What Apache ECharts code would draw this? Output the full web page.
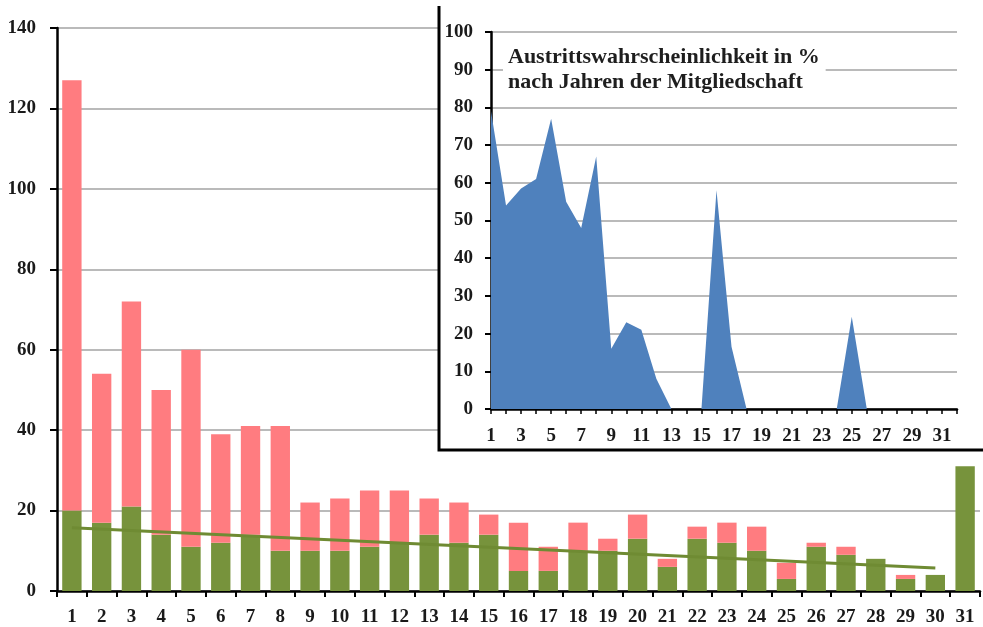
<!DOCTYPE html>
<html>
<head>
<meta charset="utf-8">
<script src="https://cdn.jsdelivr.net/npm/echarts@6/dist/echarts.min.js"></script>
<style>html,body{margin:0;padding:0;background:#fff}#c{width:983px;height:627px}</style>
</head>
<body>
<div id="c"></div>
<script>
// Main chart: membership years
var years = ['1','2','3','4','5','6','7','8','9','10','11','12','13','14','15','16','17','18','19','20','21','22','23','24','25','26','27','28','29','30','31'];
var greenValues = [20,17,21,14,11,12,14,10,10,10,11,12,14,12,14,5,5,10,10,13,6,13,12,10,3,11,9,8,3,4,31];
var pinkValues  = [107,37,51,36,49,27,27,31,12,13,14,13,9,10,5,12,6,7,3,6,2,3,5,6,4,1,2,0,1,0,0];
var trendPoints = [[0,15.7],[29,5.7]];
var mainYTicks = [0,20,40,60,80,100,120,140];

// Inset: exit probability in % by years of membership
var insetYears = ['1','2','3','4','5','6','7','8','9','10','11','12','13','14','15','16','17','18','19','20','21','22','23','24','25','26','27','28','29','30','31','32'];
var exitProbability = [79,54,58.5,61,77,55,48,67,16,23,21,8,0,0,0,58,16.5,0,0,0,0,0,0,0,24.5,0,0,0,0,0,0,0];
var insetTitle = 'Austrittswahrscheinlichkeit in %\nnach Jahren der Mitgliedschaft';

var FONT = 'Liberation Serif';
var lbl = {fontFamily: FONT, fontWeight: 'bold', fontSize: 19, color: '#1a1a1a'};

var chart = echarts.init(document.getElementById('c'), null, {renderer: 'canvas'});
chart.setOption({
  animation: false,
  backgroundColor: '#fff',
  title: {
    text: insetTitle,
    left: 503, top: 42,
    padding: [3, 6, 3, 5],
    backgroundColor: '#fff',
    z: 8,
    textStyle: {fontFamily: FONT, fontWeight: 'bold', fontSize: 22, lineHeight: 25, color: '#1e1e1e'}
  },
  graphic: [
    {type: 'rect', z: 1, shape: {x: 439, y: 6, width: 560, height: 444}, style: {fill: '#fff'}},
    {type: 'polyline', z: 7, shape: {points: [[439, 6], [439, 450], [990, 450]]}, style: {stroke: '#000', lineWidth: 3, fill: null}}
  ],
  grid: [
    {left: 57, top: 28, right: 3, bottom: 35},
    {left: 491, top: 32, width: 466, bottom: 218}
  ],
  xAxis: [
    {
      type: 'category', gridIndex: 0, data: years, boundaryGap: true, z: 0,
      axisLine: {lineStyle: {color: '#000', width: 2.5}},
      axisTick: {show: true, length: 6, lineStyle: {color: '#000', width: 2}},
      axisLabel: Object.assign({margin: 17, interval: 0}, lbl),
      splitLine: {show: false}
    },
    {
      type: 'category', gridIndex: 1, data: insetYears, boundaryGap: false, z: 5,
      axisLine: {lineStyle: {color: '#000', width: 2.5}},
      axisTick: {show: true, length: 5, interval: 0, lineStyle: {color: '#000', width: 1.5}},
      axisLabel: Object.assign({margin: 18, interval: 1}, lbl),
      splitLine: {show: false}
    }
  ],
  yAxis: [
    {
      type: 'value', gridIndex: 0, min: 0, max: 140, interval: 20, z: 0,
      axisLine: {show: true, lineStyle: {color: '#000', width: 2.5}},
      axisTick: {show: true, length: 7, lineStyle: {color: '#000', width: 2}},
      axisLabel: Object.assign({margin: 21, customValues: mainYTicks}, lbl),
      splitLine: {lineStyle: {color: '#a3a3a3', width: 1.6}}
    },
    {
      type: 'value', gridIndex: 1, min: 0, max: 100, interval: 10, z: 5,
      axisLine: {show: true, lineStyle: {color: '#000', width: 2.5}},
      axisTick: {show: true, length: 6, lineStyle: {color: '#000', width: 2}},
      axisLabel: Object.assign({margin: 18}, lbl),
      splitLine: {lineStyle: {color: '#a3a3a3', width: 1.6}}
    }
  ],
  series: [
    {
      type: 'bar', xAxisIndex: 0, yAxisIndex: 0, stack: 'm', data: greenValues,
      barCategoryGap: '35%', itemStyle: {color: '#77933c'}, z: 0
    },
    {
      type: 'bar', xAxisIndex: 0, yAxisIndex: 0, stack: 'm', data: pinkValues,
      barCategoryGap: '35%', itemStyle: {color: '#ff7c80'}, z: 0
    },
    {
      type: 'line', xAxisIndex: 0, yAxisIndex: 0, data: trendPoints,
      symbol: 'none', lineStyle: {color: '#6f8b33', width: 3}, z: 0
    },
    {
      type: 'line', xAxisIndex: 1, yAxisIndex: 1, data: exitProbability,
      symbol: 'none', lineStyle: {width: 0, color: '#4f81bd'},
      areaStyle: {color: '#4f81bd', opacity: 1}, z: 6
    }
  ]
});
</script>
</body>
</html>
